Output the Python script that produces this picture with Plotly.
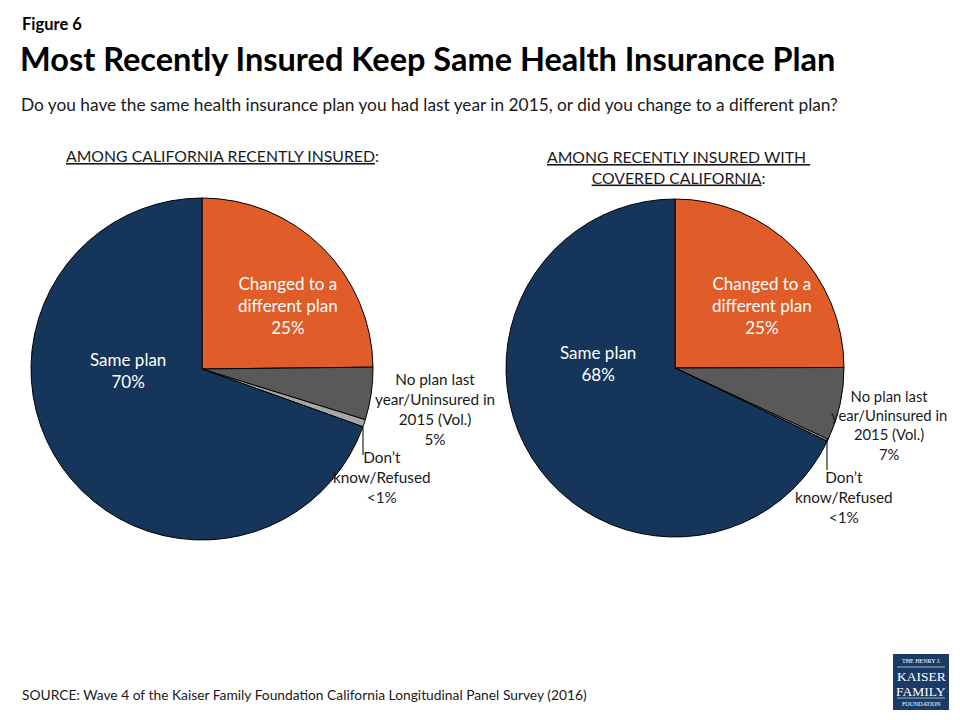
import plotly.graph_objects as go

# ---- data ----
categories = ["Changed to a different plan", "No plan last year/Uninsured in 2015 (Vol.)",
              "Don\u2019t know/Refused", "Same plan"]
left_values = [25, 5, 0.7, 70]
right_values = [25, 7, 0.2, 68]
left_labels = ["25%", "5%", "<1%", "70%"]
right_labels = ["25%", "7%", "<1%", "68%"]
colors = ["#E05C28", "#595959", "#A6A6A6", "#15365A"]

OFF = 8  # page body margin
W, H = 960 - OFF, 720 - OFF
FONT = "Lato, 'Open Sans', sans-serif"

def px(x):
    return (x - OFF) / W

def py(y):
    return 1 - (y - OFF) / H

fig = go.Figure()

def add_pie(values, cx, cy, r):
    fig.add_trace(go.Pie(
        labels=categories, values=values, sort=False, direction="clockwise",
        rotation=0, textinfo="none", hoverinfo="label+percent",
        marker=dict(colors=colors, line=dict(color="#000000", width=1)),
        domain=dict(x=[px(cx - r), px(cx + r)], y=[py(cy + r), py(cy - r)]),
        showlegend=False,
    ))

add_pie(left_values, 202, 369, 171)
add_pie(right_values, 675, 368, 169)

ann = []

def text(x, y, t, size=14, color="#1a1a1a", xanchor="center", yanchor="middle", bold=False, family=FONT):
    ann.append(dict(x=px(x), y=py(y), xref="paper", yref="paper", text=("<b>%s</b>" % t) if bold else t,
                    showarrow=False, xanchor=xanchor, yanchor=yanchor,
                    font=dict(size=size, color=color, family=family), align="center"))

# headings
text(20, 24, "Figure 6", size=16.5, color="#000", xanchor="left", bold=True)
text(18, 58, "Most Recently Insured Keep Same Health Insurance Plan", size=32.5, color="#000", xanchor="left", bold=True)
text(19, 104, "Do you have the same health insurance plan you had last year in 2015, or did you change to a different plan?",
     size=17.3, color="#1a1a1a", xanchor="left")
text(222, 156, "<u>AMONG CALIFORNIA RECENTLY INSURED</u>:", size=15.8)
text(678, 167, "<u>AMONG RECENTLY INSURED WITH </u><br><u>COVERED CALIFORNIA</u>:", size=15.8)

# slice labels
text(288, 305, "Changed to a<br>different plan<br>" + left_labels[0], size=17, color="#ffffff")
text(762, 305, "Changed to a<br>different plan<br>" + right_labels[0], size=17, color="#ffffff")
text(128, 370, "Same plan<br>" + left_labels[3], size=17, color="#ffffff")
text(598, 363, "Same plan<br>" + right_labels[3], size=17, color="#ffffff")

text(435, 409, "No plan last<br>year/Uninsured in<br>2015 (Vol.)<br>" + left_labels[1], size=15.3)
text(889, 425, "No plan last<br>year/Uninsured in<br>2015 (Vol.)<br>" + right_labels[1], size=14.8)
text(382, 477, "Don\u2019t<br>know/Refused<br>" + left_labels[2], size=15.3)
text(844, 497, "Don\u2019t<br>know/Refused<br>" + right_labels[2], size=15.3)

# source
text(20, 694, "SOURCE: Wave 4 of the Kaiser Family Foundation California Longitudinal Panel Survey (2016)",
     size=13.8, color="#1a1a1a", xanchor="left")

# logo text
serif = "'Liberation Serif', 'DejaVu Serif', serif"
text(921, 661, "THE HENRY J.", size=6, color="#ffffff", family=serif)
text(921, 676, "KAISER", size=13.5, color="#ffffff", family=serif)
text(921, 691, "FAMILY", size=13.5, color="#ffffff", family=serif)
text(921, 704, "FOUNDATION", size=6, color="#ffffff", family=serif)

shapes = [
    dict(type="line", xref="paper", yref="paper", x0=px(363), x1=px(363), y0=py(427), y1=py(455),
         line=dict(color="#000", width=1)),
    dict(type="line", xref="paper", yref="paper", x0=px(827), x1=px(827), y0=py(438), y1=py(470),
         line=dict(color="#000", width=1)),
    dict(type="rect", xref="paper", yref="paper", x0=px(893), x1=px(949), y0=py(710), y1=py(654),
         fillcolor="#1B3B66", line=dict(width=0), layer="below"),
    dict(type="line", xref="paper", yref="paper", x0=px(897), x1=px(945), y0=py(667), y1=py(667),
         line=dict(color="#ffffff", width=0.6)),
    dict(type="line", xref="paper", yref="paper", x0=px(897), x1=px(945), y0=py(698), y1=py(698),
         line=dict(color="#ffffff", width=0.6)),
]

fig.update_layout(
    width=W, height=H, margin=dict(l=0, r=0, t=0, b=0),
    paper_bgcolor="#ffffff", plot_bgcolor="#ffffff",
    annotations=ann, shapes=shapes, font=dict(family=FONT),
)

fig.write_html("out.html")
